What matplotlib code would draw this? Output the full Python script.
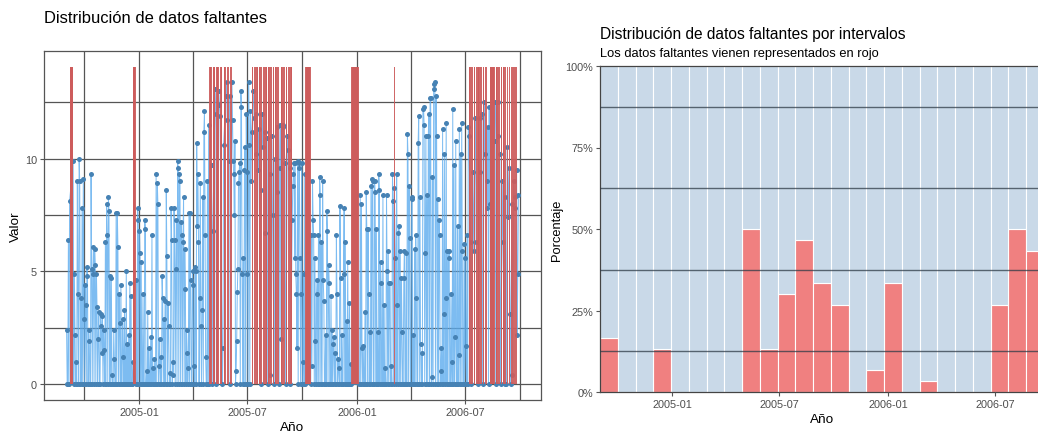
import numpy as np
import pandas as pd
import matplotlib
matplotlib.use('Agg')
import matplotlib.pyplot as plt
import matplotlib.dates as mdates

plt.rcParams['font.family'] = ['Liberation Sans', 'DejaVu Sans']

NA = None
# serie diaria desde 2004-09-01, NA = dato faltante (30 dias por fila de 3x10)
inicio = '2004-09-01'
valor_sep04_dic04 = [
    2.4, 0, 0, 6.4, 0, 8.1, NA, NA, NA, NA,
    NA, 9.9, 0, 4.9, 2.2, 0, 1.0, 0, 9.0, 4.0,
    0, 10.0, 9.0, 0, 3.8, 0, 7.8, 0, 9.1, 2.9,
    0, 4.4, 3.5, 0, 5.2, 4.8, 0, 2.4, 1.9, 0,
    0, 9.3, 5.1, 0, 4.9, 6.1, 0, 6.0, 5.3, 0,
    4.9, 3.4, 0, 2.0, 3.2, 0, 0, 3.1, 2.6, 1.4,
    3.0, 0, 2.4, 1.5, 0, 6.3, 0, 8.0, 6.6, 0,
    8.3, 7.7, 0, 4.8, 0, 4.7, 0.4, 0, 0, 2.4,
    1.1, 0, 0, 7.6, 0, 7.6, 6.1, 0, 4.0, 2.7,
    0, 4.4, 0, 0, 2.9, 1.2, 0, 3.3, 0, 0,
    5.0, 0, 1.8, 0, 2.2, 0, 4.5, 0, 3.9, 0,
    0, 1.0, NA, NA, NA, NA, 0, 4.6, 0, 7.8,
]
valor_dic04_abr05 = [
    7.3, 0, 6.8, 5.8, 0, 5.4, 0, 0, 4.0, 0,
    0, 7.3, 6.9, 0, 0.6, 0, 3.2, 0, 1.6, 0,
    0, 2.1, 0, 6.6, 0, 0.7, 0, 1.1, 0, 0,
    9.3, 0, 8.9, 8.0, 0, 0.8, 2.0, 0, 1.2, 0,
    4.8, 3.8, 0, 2.9, 0, 3.7, 0, 8.6, 5.7, 0,
    3.6, 2.6, 0, 0.5, 0, 7.8, 6.4, 0, 1.0, 0.4,
    7.8, 6.4, 0, 5.1, 7.3, 0, 9.9, 9.6, 0, 9.3,
    9.0, 0, 7.2, 6.6, 0, 6.3, 8.3, 0, 6.0, 4.2,
    0, 2.4, 1.4, 0, 0.7, 7.6, 0, 7.6, 4.6, 0,
    0, 5.0, 4.4, 0.8, 0, 5.2, 5.0, 0, 10.7, 7.0,
    9.3, 6.3, 0, 3.8, 8.9, 2.6, 0, 3.3, 8.3, 0,
    11.2, 12.1, 6.6, 1.2, 0, 0, 9.0, 0, 11.5, 0,
]
valor_abr05_ago05 = [
    NA, NA, NA, 9.7, 0, 6.8, NA, NA, NA, 13.1,
    12.0, 0, NA, NA, NA, 13.0, 12.4, 11.9, NA, NA,
    NA, 0, 1.6, 10.6, NA, NA, NA, 12.8, 13.4, 11.7,
    NA, NA, 9.9, 12.8, 0, NA, NA, 13.4, 11.7, 9.9,
    9.3, 7.5, 10.8, 0, 0.6, 1.9, 4.1, 5.1, 8.9, 9.4,
    9.8, 0, 13.0, 12.3, 4.9, 0, 5.6, 0, 9.5, 10.5,
    0, 12.0, 9.4, 4.9, 0, 13.4, 10.6, 0, 12.1, 9.0,
    11.2, NA, NA, 13.0, 11.8, NA, NA, 10.2, 12.0, NA,
    NA, 9.5, 11.3, NA, NA, 0, 8.6, NA, 12.0, 10.5,
    NA, NA, 11.2, 6.7, NA, NA, 10.9, 0, NA, NA,
    9.3, 0.4, NA, NA, 11.0, 7.5, NA, NA, 0, 10.0,
    NA, NA, 8.5, 11.4, NA, NA, 0, 9.6, 11.5, 2.0,
]
valor_ago05_dic05 = [
    NA, NA, 11.5, 11.4, NA, NA, 9.8, 0, NA, NA,
    11.0, 10.4, NA, NA, 9.6, 0, NA, NA, 7.3, 8.8,
    9.3, 9.8, 5.6, 9.8, 4.9, 4.0, 1.6, 9.9, 0, 9.6,
    9.8, 5.6, 0, 4.0, 9.8, 0, 1.0, 4.9, 0, 9.3,
    0, NA, NA, NA, NA, NA, NA, NA, NA, 0,
    6.6, 0.8, 9.0, 7.3, 6.6, 0, 5.6, 1.9, 0, 4.0,
    4.6, 0, 6.6, 0, 9.2, 8.4, 0, 6.3, 0, 9.0,
    4.6, 3.7, 0, 0, 2.2, 0, 7.7, 6.8, 0, 5.3,
    4.5, 0, 0, 3.9, 0, 2.4, 0, 1.8, 2.1, 0,
    1.4, 0, 6.6, 4.0, 0, 1.1, 0.7, 0, 7.9, 4.7,
    0, 2.2, 0, 0, 4.9, 7.8, 0, 6.3, 0, 2.8,
    0, 5.4, 0, 0, 3.6, 0, 0.9, 0, NA, NA,
]
valor_dic05_abr06 = [
    NA, NA, NA, NA, NA, NA, NA, NA, NA, NA,
    0, 0, 8.4, 0, 8.0, 1.6, 0, 1.7, 0, 0,
    3.2, 0, 8.5, 6.9, 0, 6.9, 4.0, 0, 2.3, 0,
    8.8, 0, 9.1, 9.0, 0, 0, 9.0, 8.5, 0, 6.9,
    0, 2.3, 0, 9.3, 8.6, 0, 5.4, 4.5, 0, 0,
    8.4, 0, 3.5, 0, 0.7, 0, 8.4, 5.0, 0, 5.9,
    0, 4.5, 4.5, 0, 0.8, 0, 9.3, 8.1, 0, 8.7,
    NA, 5.6, 0, 9.3, 3.5, 0, 6.7, 7.0, 0, 5.9,
    0, 4.7, 2.3, 0, 0, 4.7, 5.9, 0, 0, 5.8,
    0, 11.1, 10.2, 0, 8.8, 6.5, 0, 0, 8.2, 8.3,
    0, 2.2, 0, 6.0, 0, 6.6, 3.8, 0, 0, 10.7,
    11.9, 0, 8.3, 1.8, 0, 1.4, 0, 12.2, 12.3, 11.5,
]
valor_abr06_sep06 = [
    0, 5.8, 11.0, 0, 8.4, 0, 11.0, 12.0, 0, 12.7,
    12.7, 0, 0.3, 9.2, 0, 13.1, 13.3, 13.4, 0, 12.8,
    11.0, 0, 8.2, 0, 7.3, 6.6, 0, 0.6, 1.6, 0,
    11.3, 0, 3.1, 10.2, 0, 3.8, 11.6, 0, 5.9, 0,
    5.6, 5.9, 0, 0, 4.0, 1.0, 0, 12.2, 0, 9.7,
    0, 2.1, 10.8, 0, 0, 7.0, 0, 1.3, 11.3, 0,
    10.2, 0, 11.6, 5.9, 0, 0, 6.2, 0, 5.6, 1.7,
    0, 6.6, 0, 11.4, 11.0, NA, NA, 6.3, 0, NA,
    NA, 9.4, 5.9, NA, NA, 11.8, 6.3, NA, NA, 0,
    NA, NA, 9.4, 11.8, NA, NA, 12.0, 0, NA, NA,
    12.5, 10.2, NA, NA, 9.0, 7.8, 11.4, 0, 12.3, 8.0,
    NA, NA, NA, NA, NA, NA, NA, 10.8, 12.5, 0,
    NA, NA, 12.5, 11.0, NA, NA, 10.2, 0, NA, NA,
    9.0, 6.3, NA, NA, 0, 8.3, NA, 0, 10.5, NA,
    7.4, 9.6, NA, 3.1, 0, NA, 8.0, 0.4, NA, 9.0,
    NA, 8.3, 7.8, NA, 9.5, 2.2, 4.9, 8.4,
]

# porcentaje de faltantes por intervalos de 30 dias
inicio_intervalos = '2004-09-01'
dias_intervalo = 30
pct_faltantes = [16.7, 0, 0, 13.3, 0, 0, 0, 0, 50.0, 13.3, 30.0, 46.7, 33.3,
                 26.7, 0, 6.7, 33.3, 0, 3.3, 0, 0, 0, 26.7, 50.0, 43.3]

ticks_x = ['2005-01', '2005-07', '2006-01', '2006-07']
ticks_x_menores = ['2004-10', '2005-04', '2005-10', '2006-04', '2006-10']

W, H = 1038, 435
fig = plt.figure(figsize=(W/100, H/100), dpi=100)

def caja(l, t, r, b):
    return [l/W, 1-b/H, (r-l)/W, (b-t)/H]

gris_txt = '#4D4D4D'

# ---------------- panel izquierdo ----------------
ax1 = fig.add_axes(caja(44, 52, 541, 401))
valor = np.array(valor_sep04_dic04 + valor_dic04_abr05 + valor_abr05_ago05
                 + valor_ago05_dic05 + valor_dic05_abr06 + valor_abr06_sep06, dtype=float)
fechas = pd.date_range(inicio, periods=len(valor), freq='D')
x = mdates.date2num(fechas)
ok = ~np.isnan(valor)
alto = np.nanmax(valor) * 1.05

ax1.plot(x[ok], valor[ok], color='#5CACEE', lw=0.7, alpha=0.8, zorder=3)
ax1.scatter(x[ok], valor[ok], s=13, color='#4682B4', linewidths=0, zorder=4)
ax1.bar(x[~ok], alto, width=2.0, color='#CD5C5C', alpha=0.93,
        linewidth=0, zorder=5)

rx = x[-1] - x[0]
ax1.set_xlim(x[0] - 0.05*rx, x[-1] + 0.05*rx)
ax1.set_ylim(-0.05*alto, alto*1.05)

ax1.set_xticks(mdates.date2num(pd.to_datetime(ticks_x)))
ax1.set_xticklabels(ticks_x)
ax1.set_xticks(mdates.date2num(pd.to_datetime(ticks_x_menores)), minor=True)
ax1.set_yticks([0, 5, 10])
ax1.set_yticks([2.5, 7.5, 12.5], minor=True)
ax1.grid(which='both', color='#555555', lw=0.9, zorder=1)
ax1.set_axisbelow(True)
ax1.tick_params(which='major', length=3, color='#555555', labelsize=7.8,
                labelcolor=gris_txt, pad=2)
ax1.tick_params(which='minor', length=0)
for s in ax1.spines.values():
    s.set_color('#555555')
    s.set_linewidth(0.9)
ax1.set_xlabel('Año', fontsize=9.7, labelpad=3)
ax1.set_ylabel('Valor', fontsize=9.7, labelpad=2)
fig.text(44/W, 1-23/H, 'Distribución de datos faltantes', fontsize=11.9,
         va='baseline', ha='left')

# ---------------- panel derecho ----------------
ax2 = fig.add_axes(caja(600, 67, 1044, 393))
p = np.array(pct_faltantes) / 100
bordes = mdates.date2num(pd.Timestamp(inicio_intervalos)) + dias_intervalo*np.arange(len(p))
ax2.bar(bordes, p, width=dias_intervalo, align='edge', color='#F08080',
        edgecolor='white', linewidth=0.8, zorder=1)
ax2.bar(bordes, 1-p, bottom=p, width=dias_intervalo, align='edge', color='#C9D9E8',
        edgecolor='white', linewidth=0.8, zorder=1)
ax2.set_xlim(bordes[0], bordes[-1] + dias_intervalo)
ax2.set_ylim(0, 1)
ax2.set_xticks(mdates.date2num(pd.to_datetime(ticks_x)))
ax2.set_xticklabels(ticks_x)
ax2.set_yticks([0, 0.25, 0.5, 0.75, 1])
ax2.set_yticklabels(['0%', '25%', '50%', '75%', '100%'])
ax2.set_yticks([0.125, 0.375, 0.625, 0.875], minor=True)
ax2.grid(False)
ax2.grid(which='minor', axis='y', color='#2E3B47', alpha=0.75, lw=1.0)
ax2.set_axisbelow(False)
ax2.tick_params(which='major', length=3, color='#555555', labelsize=7.8,
                labelcolor=gris_txt, pad=2)
ax2.tick_params(which='minor', length=0)
ax2.spines['right'].set_visible(False)
for s in ['left', 'bottom', 'top']:
    ax2.spines[s].set_color('#444444')
    ax2.spines[s].set_linewidth(0.9)
ax2.set_xlabel('Año', fontsize=9.7, labelpad=3)
ax2.set_ylabel('Porcentaje', fontsize=9.3, labelpad=2)
fig.text(600/W, 1-39/H, 'Distribución de datos faltantes por intervalos',
         fontsize=11.2, va='baseline', ha='left')
fig.text(600/W, 1-57/H, 'Los datos faltantes vienen representados en rojo',
         fontsize=9.3, va='baseline', ha='left')

fig.savefig('out.png', dpi=100)
